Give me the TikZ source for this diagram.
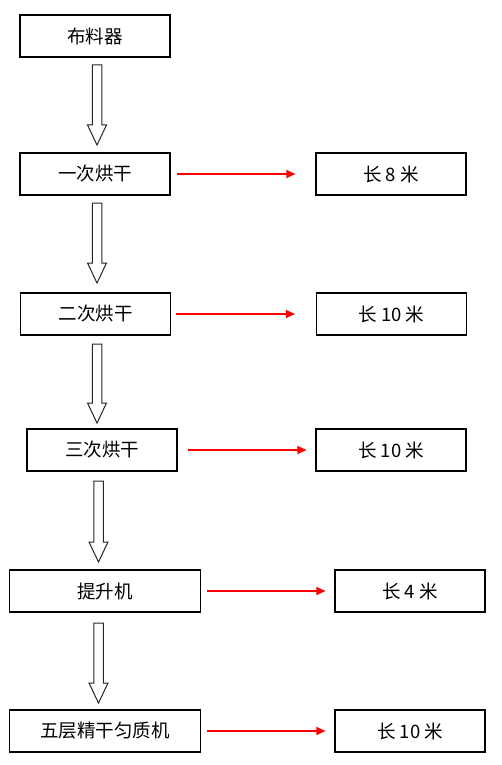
\documentclass[tikz,border=0pt]{standalone}
\usepackage{fontspec}
\setmainfont{Noto Sans CJK SC}
\usetikzlibrary{arrows.meta}
\tikzset{
  box/.style={draw=black, line width=1.1pt, fill=white, inner sep=0pt,
    font=\fontsize{18.5}{20}\selectfont},
  hollow/.style={draw=black!85, line width=1pt, fill=white, line join=miter},
  redarrow/.style={draw=red, line width=1.1pt, -{Triangle[length=9pt,width=8pt]}}
}
\newcommand{\hollowarrow}[4]{% name, x, ytop, ytip
  \coordinate (#1top) at (#2,#3);
  \coordinate (#1tip) at (#2,#4);
  \draw[hollow] (#2-4.75,#3) -- (#2+4.75,#3) -- (#2+4.75,#4-20) -- (#2+9.5,#4-20)
    -- (#1tip) -- (#2-9.5,#4-20) -- (#2-4.75,#4-20) -- cycle;}
\begin{document}
\begin{tikzpicture}[x=1pt,y=-1pt]
\useasboundingbox[fill=white] (0,0) rectangle (501,765);
% left boxes
\node[box, minimum width=150pt, minimum height=42pt] (b1) at (95,36) {布料器};
\node[box, minimum width=150pt, minimum height=42pt] (b2) at (95,174) {一次烘干};
\node[box, minimum width=150pt, minimum height=42pt] (b3) at (95.5,314) {二次烘干};
\node[box, minimum width=150pt, minimum height=42pt] (b4) at (102,450) {三次烘干};
\node[box, minimum width=191pt, minimum height=42pt] (b5) at (105,591) {提升机};
\node[box, minimum width=191pt, minimum height=42pt] (b6) at (105,731) {五层精干匀质机};
% right boxes
\node[box, minimum width=150pt, minimum height=42pt] (r2) at (391,174) {长 8 米};
\node[box, minimum width=150pt, minimum height=42pt] (r3) at (391.5,314) {长 10 米};
\node[box, minimum width=150pt, minimum height=42pt] (r4) at (391,450) {长 10 米};
\node[box, minimum width=150pt, minimum height=42pt] (r5) at (410,591) {长 4 米};
\node[box, minimum width=150pt, minimum height=42pt] (r6) at (410,731) {长 10 米};
% hollow arrows
\hollowarrow{h1}{97}{65}{145}
\hollowarrow{h2}{97}{203}{283}
\hollowarrow{h3}{97}{344}{423}
\hollowarrow{h4}{98.5}{481}{562}
\hollowarrow{h5}{98.5}{623}{703}
% red arrows
\draw[redarrow, shorten <=6pt, shorten >=20pt] (b2) -- (r2);
\draw[redarrow, shorten <=5pt, shorten >=21pt] (b3) -- (r3);
\draw[redarrow, shorten <=10pt, shorten >=9pt] (b4) -- (r4);
\draw[redarrow, shorten <=6pt, shorten >=9pt] (b5) -- (r5);
\draw[redarrow, shorten <=6pt, shorten >=9pt] (b6) -- (r6);
\end{tikzpicture}
\end{document}
